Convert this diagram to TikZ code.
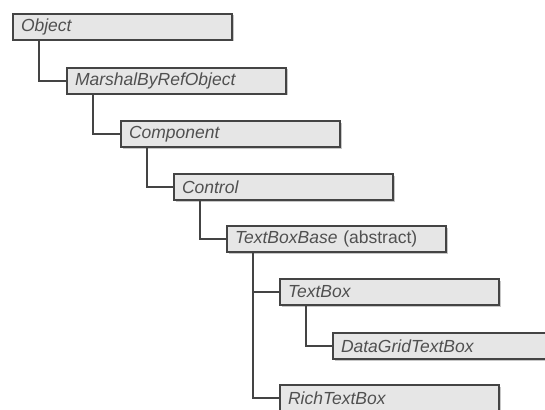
\documentclass[tikz,border=0pt]{standalone}
\usepackage{fontspec}
\setmainfont{Liberation Sans}
\usetikzlibrary{calc,shadows}
\definecolor{edge}{HTML}{444444}
\definecolor{boxfill}{HTML}{E6E6E6}
\definecolor{txt}{HTML}{505050}
\begin{document}
\begin{tikzpicture}[x=1pt,y=-1pt,
  cls/.style={draw=edge, line width=2pt, fill=boxfill, anchor=north west,
    minimum height=26pt, text width=203pt, align=left, inner xsep=8pt, inner ysep=0pt,
    text=txt, font=\fontsize{17.5}{20}\selectfont\itshape,
    drop shadow={shadow xshift=1.5pt, shadow yshift=-1.5pt, fill=gray!55, opacity=0.8}},
  link/.style={draw=edge, line width=2pt}]
\useasboundingbox (0,0) rectangle (545,409);
\clip (0,0) rectangle (545,409);
\fill[white] (0,0) rectangle (545,409);
\node[cls] (obj) at (12,13) {Object};
\node[cls] (mbr) at (66,67) {MarshalByRefObject};
\node[cls] (comp) at (120,120) {Component};
\node[cls] (ctrl) at (173,173) {Control};
\node[cls] (tbb) at (226,225) {TextBoxBase \upshape(abstract)};
\node[cls] (tb) at (279,278) {TextBox};
\node[cls] (dgtb) at (332,332) {DataGridTextBox};
\node[cls] (rtb) at (279,384) {RichTextBox};
\draw[link] ($(obj.south west)+(27,0)$) |- (mbr.west);
\draw[link] ($(mbr.south west)+(27,0)$) |- (comp.west);
\draw[link] ($(comp.south west)+(27,0)$) |- (ctrl.west);
\draw[link] ($(ctrl.south west)+(27,0)$) |- (tbb.west);
\draw[link] ($(tbb.south west)+(27,0)$) |- (tb.west);
\draw[link] ($(tb.south west)+(27,0)$) |- (dgtb.west);
\draw[link] ($(tbb.south west)+(27,0)$) |- (rtb.west);
\end{tikzpicture}
\end{document}
